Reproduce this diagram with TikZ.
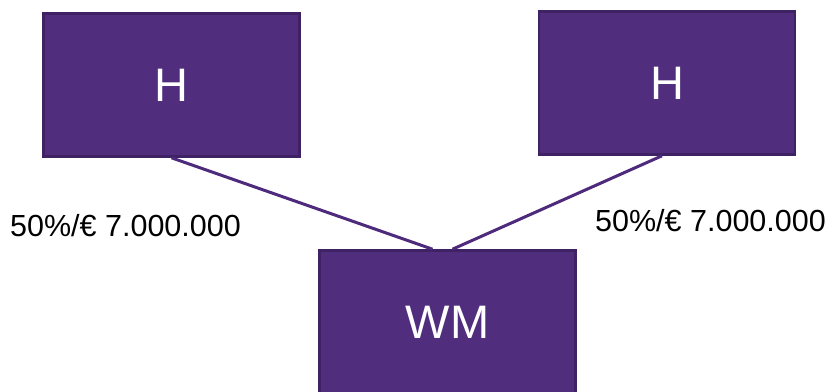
\documentclass[tikz,border=0pt]{standalone}
\usepackage{fontspec}
\setmainfont{Liberation Sans}
\usetikzlibrary{calc}
\definecolor{boxfill}{HTML}{502D7D}
\definecolor{boxline}{HTML}{3F2264}
\definecolor{linkcol}{HTML}{4E2A7C}
\tikzset{
  entity/.style={draw=boxline, line width=2.6pt, fill=boxfill, text=white,
    minimum width=256pt, minimum height=143pt, inner sep=0pt,
    font=\fontsize{47}{50}\selectfont},
  link/.style={draw=linkcol, line width=3pt},
  share/.style={font=\fontsize{30.5}{34}\selectfont, text=black, inner sep=0pt, anchor=base west}
}
\begin{document}
\begin{tikzpicture}[x=1pt,y=-1pt]
\useasboundingbox (0,0) rectangle (830,391);
\node[entity] (h1) at (171.5,85) {H};
\node[entity] (h2) at (667,83) {H};
\node[entity] (wm) at (447.5,322) {WM};
\coordinate (wmL) at ($(wm.north)+(-15,0)$);
\coordinate (wmR) at ($(wm.north)+(5,0)$);
\coordinate (h2s) at ($(h2.south)+(-5,0)$);
\draw[link] (h1.south) -- (wmL);
\draw[link] (h2s) -- (wmR);
\node[share] (l1) at (10,236) {50\%/€ 7.000.000};
\node[share] (l2) at (595,231) {50\%/€ 7.000.000};
\end{tikzpicture}
\end{document}
